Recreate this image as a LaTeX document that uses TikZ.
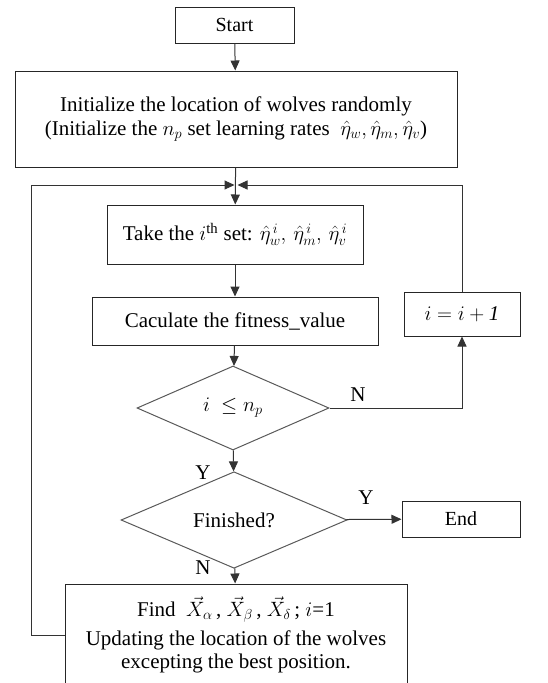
\documentclass[tikz,border=0pt]{standalone}
\usepackage{amsmath}
\usepackage{fontspec}
\setmainfont{Liberation Serif}
\usetikzlibrary{positioning}
\usetikzlibrary{shapes.geometric}
\usetikzlibrary{arrows.meta}

\begin{document}
\begin{tikzpicture}[x=1pt,y=-1pt]
            \tikzset{box/.style={draw=black!85, line width=1pt, rectangle, inner sep=0pt, align=center, font=\fontsize{21}{23.5}\selectfont},
                decision/.style={draw=black!65, line width=1pt, diamond, inner sep=0pt, font=\fontsize{21}{23.5}\selectfont},
                arr/.style={draw=black!80, line width=1pt, -{Triangle[length=10pt,width=9pt]}},
                lbl/.style={font=\fontsize{21}{23}\selectfont}}
            \useasboundingbox (0,0) rectangle (547,683);
            \node [box, minimum width=119pt, minimum height=36pt, font=\fontsize{20}{23}\selectfont] (start) at (234.5,25) {Start};
            \node [box, minimum width=442pt, minimum height=96pt] (init) at (236,119)
                {Initialize the location of wolves randomly\\(Initialize the $n_{p}$ set learning rates\ \ $\hat{\eta}_{w},\hat{\eta}_{m},\hat{\eta}_{v}$)};
            \coordinate (merge) at (236,185);
            \coordinate (loopL) at (31,185);
            \node [box, minimum width=256pt, minimum height=59pt] (take) at (235,234.5)
                {Take the $i$\textsuperscript{th} set: $\hat{\eta}^{\,i}_{w},\, \hat{\eta}^{\,i}_{m},\, \hat{\eta}^{\,i}_{v}$};
            \node [box, minimum width=286pt, minimum height=48pt] (calc) at (235,321) {Caculate the fitness\_value};
            \node [decision, minimum width=192pt, minimum height=84pt] (cond) at (233,408) {$i\ \leq n_{p}$};
            \node [box, minimum width=116pt, minimum height=44pt] (inc) at (462,314) {$i = i + \mathit{1}$};
            \node [decision, minimum width=226pt, minimum height=80pt] (fin) at (234,520) {Finished?};
            \node [box, minimum width=118pt, minimum height=36pt, font=\fontsize{20}{23}\selectfont] (end) at (461,519) {End};
            \node [box, minimum width=342pt, minimum height=102pt] (upd) at (236,635)
                {Find\ \ $\vec{X}_{\alpha}$\,,\ $\vec{X}_{\beta}$\,,\ $\vec{X}_{\delta}$\,; $i$=1\\[5pt]Updating the location of the wolves\\excepting the best position.};

            \draw [arr] (start) -- (init);
            \draw [arr] (init) -- (take);
            \draw [arr] (take) -- (calc);
            \draw [arr] (calc) -- (cond);
            \draw [arr] (cond.east) -| (inc.south);
            \draw [arr, shorten >=1.5pt] (inc.north) |- (merge);
            \draw [arr] (cond) -- (fin);
            \draw [arr] (fin) -- (end);
            \draw [arr] (fin) -- (upd);
            \draw [arr, shorten >=1.5pt] (upd.west) -| (loopL) -- (merge);

            \node [lbl] (n1) at (358,395) {N};
            \node [lbl] (y1) at (203,473) {Y};
            \node [lbl] (y2) at (366,498) {Y};
            \node [lbl] (n2) at (203,568) {N};
        \end{tikzpicture}
\end{document}
